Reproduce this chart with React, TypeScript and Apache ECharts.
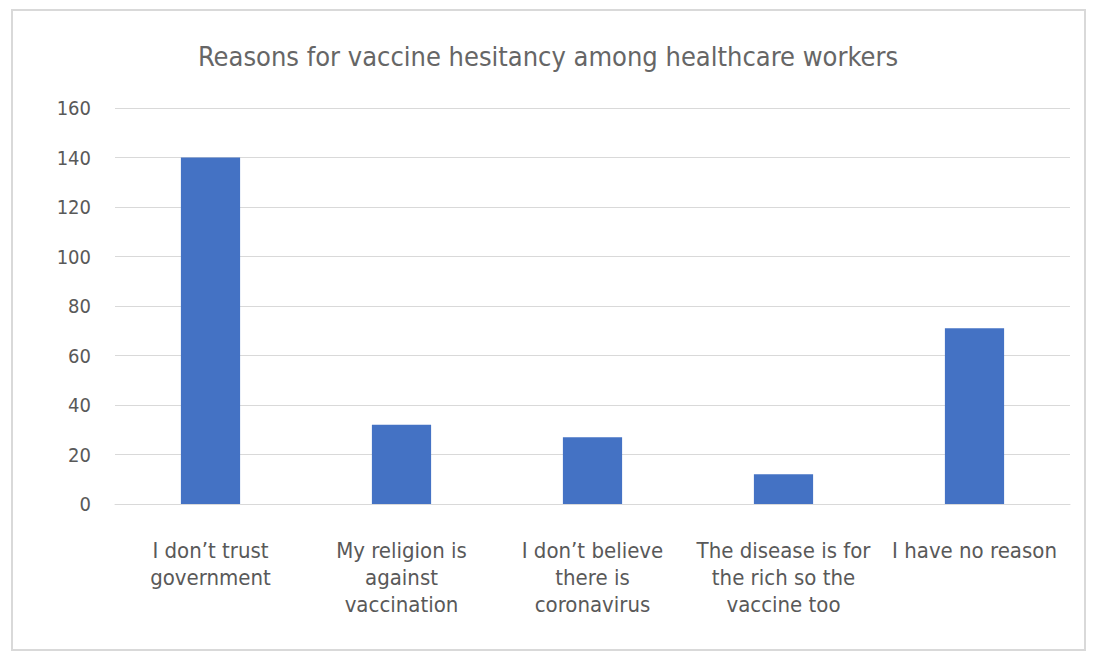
import React, { useEffect, useRef } from "react";
import * as echarts from "echarts";

const categories = [
  "I don\u2019t trust\ngovernment",
  "My religion is\nagainst\nvaccination",
  "I don\u2019t believe\nthere is\ncoronavirus",
  "The disease is for\nthe rich so the\nvaccine too",
  "I have no reason",
];
const values = [140, 32, 27, 12, 71];
const yTicks = [0, 20, 40, 60, 80, 100, 120, 140, 160];
const title = "Reasons for vaccine hesitancy among healthcare workers";

const FONT = "'Liberation Sans Narrow', 'DejaVu Sans Condensed', 'Open Sans', sans-serif";

export default function App() {
  const ref = useRef<HTMLDivElement>(null);
  useEffect(() => {
    document.body.style.margin = "0";
    if (!ref.current) return;
    const chart = echarts.init(ref.current, undefined, { renderer: "svg" });
    chart.setOption({
      animation: false,
      backgroundColor: "#ffffff",
      textStyle: { fontFamily: FONT },
      title: {
        text: title,
        left: "center",
        top: 38,
        textStyle: { fontFamily: FONT, fontSize: 27, fontWeight: "normal", color: "#666666" },
      },
      graphic: [
        {
          type: "rect",
          shape: { x: 12, y: 10, width: 1073, height: 640 },
          style: { fill: "none", stroke: "#D9D9D9", lineWidth: 2 },
          silent: true,
        },
      ],
      grid: { left: 115, right: 26, top: 108, bottom: 155 },
      xAxis: {
        type: "category",
        data: categories,
        axisLine: { show: true, lineStyle: { color: "#D9D9D9", width: 1 } },
        axisTick: { show: false },
        axisLabel: {
          interval: 0,
          margin: 33,
          fontSize: 22,
          lineHeight: 27,
          color: "#595959",
          fontFamily: FONT,
          verticalAlign: "top",
        },
      },
      yAxis: {
        type: "value",
        min: 0,
        max: 160,
        interval: 20,
        axisLine: { show: false },
        axisTick: { show: false },
        splitLine: { lineStyle: { color: "#D9D9D9", width: 1 } },
        axisLabel: {
          fontSize: 20,
          color: "#595959",
          margin: 24,
          fontFamily: FONT,
          formatter: (v: number) => (yTicks.includes(v) ? String(v) : ""),
        },
      },
      series: [
        {
          type: "bar",
          data: values,
          barWidth: "31%",
          itemStyle: { color: "#4472C4" },
        },
      ],
    });
    return () => chart.dispose();
  }, []);
  return <div ref={ref} style={{ width: 1096, height: 659 }} />;
}
